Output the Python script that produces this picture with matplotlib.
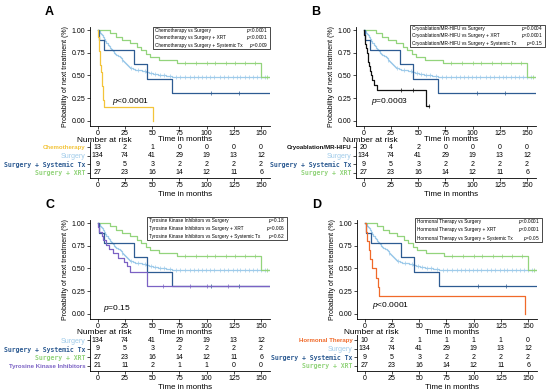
import numpy as np
import matplotlib.pyplot as plt
from matplotlib.patches import Rectangle

plt.rcParams['font.family'] = ['Liberation Sans Narrow', 'Liberation Sans', 'DejaVu Sans']
plt.rcParams['mathtext.fontset'] = 'custom'
plt.rcParams['mathtext.it'] = 'Liberation Sans:italic'
plt.rcParams['mathtext.rm'] = 'Liberation Sans'

W, H = 550, 390

risk_times = [0, 25, 50, 75, 100, 125, 150]

# Kaplan-Meier steps (time in months, survival)
surg_t = [0, 1, 2, 3, 4, 5, 6, 7, 8, 9, 10, 11, 12, 13, 14, 15, 16, 17, 18, 19, 20, 21,
          22, 23, 24, 25, 26, 27, 28, 29, 30, 32, 34, 36, 38, 41, 44, 47, 51, 55, 59, 63, 68]
surg_s = [1, 0.99, 0.97, 0.955, 0.94, 0.92, 0.90, 0.88, 0.86, 0.84, 0.82, 0.80, 0.79, 0.78,
          0.765, 0.75, 0.74, 0.73, 0.72, 0.71, 0.70, 0.69, 0.675, 0.66, 0.65, 0.64, 0.63, 0.615,
          0.605, 0.595, 0.585, 0.575, 0.565, 0.56, 0.555, 0.545, 0.535, 0.53, 0.52, 0.51, 0.50,
          0.49, 0.48]
surg_end = 157
surg_cens = [22, 31, 37, 43, 49, 53, 57, 61, 66, 72, 76, 80, 85, 88, 92, 96, 99, 103, 107,
             112, 116, 120, 124, 128, 131, 135, 139, 143, 146, 150, 154]

xrt_t = [0, 11, 17, 22, 30, 36, 40, 44, 48, 56, 73, 150]
xrt_s = [1, 0.963, 0.926, 0.889, 0.852, 0.815, 0.778, 0.741, 0.704, 0.67, 0.64, 0.48]
xrt_end = 157
xrt_cens = [80, 90, 100, 108, 118, 126, 135, 144, 155]

sys_t = [0, 1.5, 5.5, 33, 45, 68]
sys_s = [1, 0.889, 0.778, 0.622, 0.467, 0.311]
sys_end = 157
sys_cens = [104, 130]

chemo_t = [0, 0.5, 1, 1.5, 2, 2.5, 3, 3.5, 4, 4.5, 5, 5.5, 51]
chemo_s = [1, 0.923, 0.846, 0.769, 0.692, 0.615, 0.538, 0.462, 0.385, 0.308, 0.231, 0.154, 0]
chemo_end = 51
chemo_cens = []

cryo_t = [0, 0.5, 1, 1.5, 2, 3, 3.5, 4, 5, 6, 7, 8, 9, 12, 57]
cryo_s = [1, 0.95, 0.90, 0.85, 0.80, 0.75, 0.70, 0.65, 0.60, 0.55, 0.50, 0.45, 0.40, 0.34, 0.17]
cryo_end = 60
cryo_cens = [34, 45, 60]

tki_t = [0, 0.5, 1, 4, 5, 8, 10, 14, 19, 24, 27, 30, 45]
tki_s = [1, 0.952, 0.905, 0.857, 0.81, 0.762, 0.714, 0.667, 0.619, 0.571, 0.524, 0.457, 0.305]
tki_end = 157
tki_cens = [60, 85, 100, 120]

horm_t = [0, 1, 2, 4, 5, 7, 10, 12, 13, 147]
horm_s = [1, 0.9, 0.8, 0.7, 0.6, 0.5, 0.4, 0.3, 0.2, 0]
horm_end = 147
horm_cens = []

# numbers at risk
chemo_risk = [13, 2, 1, 0, 0, 0, 0]
surg_risk = [134, 74, 41, 29, 19, 13, 12]
sys_risk = [9, 5, 3, 2, 2, 2, 2]
xrt_risk = [27, 23, 16, 14, 12, 11, 6]
cryo_risk = [20, 4, 2, 0, 0, 0, 0]
tki_risk = [21, 11, 2, 1, 1, 0, 0]
horm_risk = [10, 2, 1, 1, 1, 1, 0]

c_surg = '#9fcbea'
c_sys = '#2d5b92'
c_xrt = '#93d47c'
c_chemo = '#f3c43a'
c_cryo = '#111111'
c_tki = '#7b62c4'
c_horm = '#f06a2a'

SURG = ('Surgery', surg_t, surg_s, surg_end, surg_cens, surg_risk, c_surg, 'plain')
SYS = ('Surgery + Systemic Tx', sys_t, sys_s, sys_end, sys_cens, sys_risk, c_sys, 'mono')
XRT = ('Surgery + XRT', xrt_t, xrt_s, xrt_end, xrt_cens, xrt_risk, c_xrt, 'mono')
CHEMO = ('Chemotherapy', chemo_t, chemo_s, chemo_end, chemo_cens, chemo_risk, c_chemo, 'bold')
CRYO = ('Cryoablation/MR-HIFU', cryo_t, cryo_s, cryo_end, cryo_cens, cryo_risk, c_cryo, 'bold')
TKI = ('Tyrosine Kinase Inhibitors', tki_t, tki_s, tki_end, tki_cens, tki_risk, c_tki, 'bold')
HORM = ('Hormonal Therapy', horm_t, horm_s, horm_end, horm_cens, horm_risk, c_horm, 'bold')

fig = plt.figure(figsize=(5.5, 3.9), dpi=100)


def rect(l, t, r, b):
    return [l / W, 1 - b / H, (r - l) / W, (b - t) / H]


XLIM = (-7.1, 158.2)


def style_ax(ax):
    for s in ['top', 'right']:
        ax.spines[s].set_visible(False)
    for s in ['left', 'bottom']:
        ax.spines[s].set_linewidth(0.6)
    ax.tick_params(length=2, width=0.5, labelsize=5, pad=1.2)


def panel(letter, dx, dy, curves, rows, box, pvals, ptext, ppos):
    ax = fig.add_axes(rect(90 + dx, 27 + dy, 270 + dx, 126 + dy))
    ax.set_xlim(*XLIM)
    ax.set_ylim(-0.055, 1.033)
    style_ax(ax)
    for name, t, s, end, cens, risk, c, st in curves:
        tt = list(t) + [end]
        ss = list(s) + [s[-1]]
        ax.step(tt, ss, where='post', color=c, lw=0.9)
        if cens:
            idx = np.searchsorted(t, cens, side='right') - 1
            ax.plot(cens, np.array(s)[idx], '|', ms=2.2, mew=0.5, color=c)
    ax.set_xticks(risk_times)
    ax.set_yticks([0, 0.25, 0.5, 0.75, 1.0])
    ax.set_yticklabels(['0.00', '0.25', '0.50', '0.75', '1.00'])
    ax.set_ylabel('Probability of next treatment (%)', fontsize=5, labelpad=2)
    ax.set_xlabel('Time in months', fontsize=5.8)
    ax.xaxis.set_label_coords(0.53, -0.105)
    ax.text(ppos[0], ppos[1], ptext, fontsize=6)

    tb = fig.add_axes(rect(90 + dx, 142 + dy, 270 + dx, 178 + dy))
    tb.set_xlim(*XLIM)
    tb.set_ylim(3.6, -0.6)
    style_ax(tb)
    tb.set_xticks(risk_times)
    tb.set_yticks(range(len(rows)))
    tb.set_yticklabels([r[0] for r in rows])
    for lbl, r in zip(tb.get_yticklabels(), rows):
        lbl.set_color(r[6])
        if r[7] == 'mono':
            lbl.set_fontfamily('DejaVu Sans Mono')
            lbl.set_fontweight('bold')
            lbl.set_fontsize(4.7)
        elif r[7] == 'bold':
            lbl.set_fontweight('bold')
            lbl.set_fontsize(4.4)
        else:
            lbl.set_fontsize(5)
    for i, r in enumerate(rows):
        for x, v in zip(risk_times, r[5]):
            tb.text(x, i, str(v), ha='center', va='center', fontsize=5)
    tb.set_xlabel('Time in months', fontsize=5.8)
    tb.xaxis.set_label_coords(0.53, -0.36)
    fig.text((77 + dx) / W, 1 - (140 + dy) / H, 'Number at risk', fontsize=6, va='center')

    fig.text((45 + dx) / W, 1 - (12 + dy) / H, letter, fontsize=9, fontweight='bold',
             va='center', family='Liberation Sans')

    l, t, r, b = box
    fig.add_artist(Rectangle((l / W, 1 - b / H), (r - l) / W, (b - t) / H,
                             transform=fig.transFigure, fc='white', ec='black', lw=0.5))
    step = (b - t) / 3.0
    for k, (txt, pv) in enumerate(pvals):
        yy = 1 - (t + step * (k + 0.5)) / H
        fig.text((l + 2) / W, yy, txt, fontsize=3.45, va='center')
        fig.text((r - 2) / W, yy, pv, fontsize=3.45, va='center', ha='right')


panel('A', 0, 0, [SURG, XRT, SYS, CHEMO], [CHEMO, SURG, SYS, XRT],
      (153, 27, 270, 49),
      [('Chemotherapy vs Surgery', '$p$<0.0001'),
       ('Chemotherapy vs Surgery + XRT', '$p$<0.0001'),
       ('Chemotherapy vs Surgery + Systemic Tx', '$p$=0.009')],
      '$p$<0.0001', (13, 0.2))

panel('B', 266, 0, [SURG, XRT, SYS, CRYO], [CRYO, SURG, SYS, XRT],
      (410, 25, 545, 47),
      [('Cryoablation/MR-HIFU vs Surgery', '$p$=0.0004'),
       ('Cryoablation/MR-HIFU vs Surgery + XRT', '$p$<0.0001'),
       ('Cryoablation/MR-HIFU vs Surgery + Systemic Tx', '$p$=0.15')],
      '$p$=0.0003', (7, 0.2))

panel('C', 0, 193, [SURG, XRT, SYS, TKI], [SURG, SYS, XRT, TKI],
      (147, 217, 287, 240),
      [('Tyrosine Kinase Inhibitors vs Surgery', '$p$=0.18'),
       ('Tyrosine Kinase Inhibitors vs Surgery + XRT', '$p$=0.006'),
       ('Tyrosine Kinase Inhibitors vs Surgery + Systemic Tx', '$p$=0.62')],
      '$p$=0.15', (5, 0.04))

panel('D', 267, 193, [SURG, XRT, SYS, HORM], [HORM, SURG, SYS, XRT],
      (415, 218, 542, 242),
      [('Hormonal Therapy vs Surgery', '$p$<0.0001'),
       ('Hormonal Therapy vs Surgery + XRT', '$p$<0.0001'),
       ('Hormonal Therapy vs Surgery + Systemic Tx', '$p$=0.05')],
      '$p$<0.0001', (7, 0.08))

fig.savefig('out.png', dpi=100)
